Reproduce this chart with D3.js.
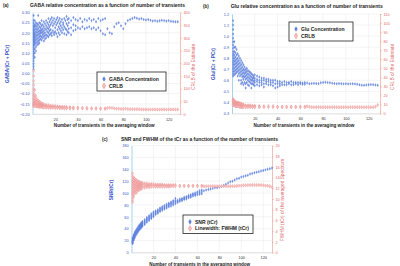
<!DOCTYPE html>
<html>
<head>
<meta charset="utf-8">
<script src="https://cdn.jsdelivr.net/npm/d3@7"></script>
<style>
body { margin: 0; background: #fff; }
svg { display: block; font-family: "Liberation Sans", Arial, sans-serif; }
</style>
</head>
<body>
<svg id="fig" width="400" height="266"></svg>
<script>
// each row: [number of transients, value, value, ...]
const gabaConc = [
  [1, 0.285, 0.262, 0.248, 0.236, 0.228, 0.219, 0.211, 0.204, 0.197, 0.19, 0.183, 0.176, 0.168, 0.161, 0.153, 0.144, 0.136, 0.127, 0.118, 0.108, 0.097, 0.086, 0.074, 0.061, 0.048, 0.034, 0.02],
  [2, 0.26, 0.24, 0.23, 0.215, 0.2, 0.19, 0.18, 0.17, 0.16, 0.15, 0.14, 0.12, 0.1, 0.08],
  [3, 0.25, 0.235, 0.22, 0.205, 0.19, 0.178, 0.165, 0.15, 0.13, 0.11],
  [4, 0.245, 0.23, 0.215, 0.2, 0.185, 0.17, 0.155, 0.14],
  [5, 0.285, 0.24, 0.22, 0.205, 0.19, 0.175, 0.16, 0.145],
  [6, 0.25, 0.23, 0.21, 0.195, 0.18, 0.165, 0.15],
  [7, 0.245, 0.225, 0.21, 0.2, 0.185, 0.17],
  [8, 0.26, 0.235, 0.215, 0.2, 0.18, 0.165],
  [9, 0.24, 0.22, 0.205, 0.19, 0.175],
  [10, 0.255, 0.23, 0.21, 0.195, 0.18, 0.16],
  [11, 0.245, 0.22, 0.2, 0.185, 0.17],
  [12, 0.26, 0.235, 0.215, 0.19, 0.175],
  [13, 0.25, 0.225, 0.205, 0.185],
  [14, 0.27, 0.24, 0.22, 0.2, 0.18],
  [15, 0.255, 0.23, 0.21, 0.19],
  [16, 0.265, 0.24, 0.215, 0.195],
  [17, 0.275, 0.25, 0.2, 0.185],
  [18, 0.26, 0.235, 0.21],
  [19, 0.27, 0.245, 0.2, 0.19],
  [20, 0.255, 0.225, 0.205],
  [21, 0.265, 0.24, 0.195],
  [22, 0.275, 0.25, 0.215, 0.18],
  [23, 0.26, 0.23, 0.2],
  [24, 0.27, 0.245, 0.22, 0.19],
  [25, 0.255, 0.235, 0.21],
  [26, 0.265, 0.225, 0.2],
  [27, 0.25, 0.24, 0.215],
  [28, 0.27, 0.23, 0.195],
  [29, 0.26, 0.22],
  [30, 0.28, 0.245, 0.215, 0.19],
  [31, 0.265, 0.235, 0.205],
  [32, 0.27, 0.25, 0.22, 0.2],
  [34, 0.26, 0.225, 0.19],
  [36, 0.275, 0.24, 0.21],
  [38, 0.265, 0.235, 0.215],
  [40, 0.26, 0.225],
  [42, 0.27, 0.22],
  [44, 0.255, 0.23],
  [46, 0.265, 0.22],
  [48, 0.26, 0.225],
  [50, 0.27, 0.23],
  [52, 0.26, 0.22],
  [54, 0.265, 0.225],
  [56, 0.255, 0.215],
  [58, 0.27, 0.225],
  [60, 0.26, 0.21],
  [62, 0.265, 0.195],
  [64, 0.27, 0.19]
];
const gabaCrlb = [
  [1, 170, 150, 130, 115, 100, 90, 80, 72, 65, 58, 52, 46, 41, 37, 33, 30],
  [2, 95, 75, 62, 52, 45, 40, 36, 32],
  [3, 70, 55, 46, 40, 35, 31],
  [4, 58, 48, 41, 36, 32, 29],
  [5, 52, 44, 38, 33, 29],
  [6, 48, 40, 35, 31, 28],
  [7, 45, 38, 33, 29],
  [8, 42, 36, 31, 28],
  [9, 40, 34, 30, 27],
  [10, 38, 33, 29, 26],
  [12, 36, 31, 28, 25],
  [14, 35, 30, 27, 25],
  [16, 33, 29, 26, 24],
  [18, 32, 28, 25],
  [20, 31, 27, 24],
  [22, 30, 27, 24],
  [24, 29, 26, 23],
  [26, 29, 25, 23],
  [28, 28, 25, 22],
  [30, 28, 24, 22],
  [33, 27, 24, 22],
  [36, 26, 23, 21],
  [40, 25, 22],
  [44, 24, 22],
  [48, 24, 21],
  [52, 23, 21],
  [56, 23, 21],
  [60, 22, 20],
  [64, 22, 20]
];
const tailN = d3.range(66, 129, 2);
const gabaConcTail = [0.22, 0.2, 0.195, 0.23, 0.245, 0.25, 0.235, 0.22, 0.245, 0.26, 0.265, 0.27, 0.275, 0.272, 0.268, 0.27,
  0.266, 0.263, 0.265, 0.262, 0.258, 0.26, 0.257, 0.259, 0.262, 0.26, 0.258, 0.26, 0.257, 0.256, 0.255, 0.254];
const gabaCrlbTail = [24, 25, 24, 22, 21, 21, 20, 20, 21, 20, 19, 19, 19, 19, 19, 18,
  18, 18, 18, 18, 18, 18, 18, 18, 18, 18, 18, 18, 18, 18, 18, 18];

const gluConc = [
  [1, 1.14, 1.1, 1.06, 1.02, 0.98, 0.95, 0.92, 0.89, 0.86, 0.84, 0.82, 0.8, 0.78, 0.76, 0.74, 0.72, 0.7, 0.68, 0.66, 0.64],
  [2, 0.95, 0.9, 0.86, 0.83, 0.8, 0.77, 0.74, 0.71, 0.68, 0.65],
  [3, 0.9, 0.85, 0.81, 0.78, 0.75, 0.72, 0.69, 0.66],
  [4, 0.88, 0.83, 0.79, 0.76, 0.73, 0.7, 0.67],
  [5, 0.84, 0.8, 0.77, 0.74, 0.71, 0.68, 0.64],
  [6, 0.82, 0.78, 0.75, 0.72, 0.69, 0.66, 0.6],
  [7, 0.8, 0.76, 0.73, 0.7, 0.67, 0.64],
  [8, 0.78, 0.74, 0.71, 0.68, 0.65, 0.6, 0.57],
  [9, 0.76, 0.72, 0.69, 0.66, 0.63, 0.58],
  [10, 0.74, 0.7, 0.67, 0.64, 0.61, 0.56],
  [11, 0.72, 0.69, 0.66, 0.63, 0.58],
  [12, 0.7, 0.67, 0.64, 0.61, 0.57, 0.53],
  [13, 0.71, 0.68, 0.65, 0.62, 0.58],
  [14, 0.69, 0.66, 0.63, 0.6, 0.56],
  [15, 0.68, 0.65, 0.62, 0.59, 0.55],
  [16, 0.67, 0.64, 0.61, 0.58],
  [17, 0.66, 0.63, 0.6, 0.57, 0.53],
  [18, 0.65, 0.62, 0.6, 0.57],
  [19, 0.64, 0.62, 0.59, 0.56],
  [20, 0.65, 0.62, 0.6, 0.58, 0.55],
  [22, 0.64, 0.61, 0.59, 0.56],
  [24, 0.63, 0.6, 0.58, 0.55],
  [26, 0.62, 0.6, 0.58, 0.56],
  [28, 0.62, 0.6, 0.57, 0.54],
  [30, 0.61, 0.59, 0.57],
  [32, 0.61, 0.59, 0.56],
  [34, 0.6, 0.58, 0.56],
  [36, 0.6, 0.58, 0.55],
  [38, 0.6, 0.57, 0.53],
  [40, 0.59, 0.57, 0.54],
  [42, 0.59, 0.57, 0.55],
  [44, 0.58, 0.56],
  [46, 0.59, 0.56],
  [48, 0.58, 0.56],
  [50, 0.58, 0.57],
  [52, 0.59, 0.56],
  [54, 0.58, 0.56],
  [56, 0.58, 0.57],
  [58, 0.58, 0.56],
  [60, 0.58, 0.57],
  [62, 0.575, 0.565],
  [64, 0.58, 0.565]
];
const gluCrlb = [
  [1, 16, 15, 14, 13, 12, 11, 10, 9],
  [2, 14, 13, 12, 11, 10, 9],
  [3, 13, 12, 11, 10, 9, 8],
  [4, 12, 11, 10, 9, 8],
  [5, 12, 11, 10, 9, 8],
  [6, 12, 11, 10, 9, 8],
  [7, 11, 10, 9, 8, 7],
  [8, 11, 10, 9, 8, 7],
  [9, 10, 9, 8, 7],
  [10, 10, 9, 8, 7],
  [12, 9, 8, 7],
  [14, 9, 8, 7],
  [16, 9, 8, 7],
  [18, 8.5, 7.5, 7],
  [20, 8.5, 7.5, 7],
  [24, 8, 7.5, 7],
  [28, 8, 7],
  [32, 8, 7],
  [36, 8, 7],
  [40, 7.5, 7],
  [44, 7.5, 7],
  [48, 7.5, 7],
  [52, 7.5, 7],
  [56, 7.5, 7],
  [60, 7.5, 7],
  [64, 7.5, 7]
];
const gluConcTail = [0.575, 0.57, 0.572, 0.574, 0.572, 0.57, 0.578, 0.58, 0.582, 0.58, 0.578, 0.574, 0.572, 0.57, 0.572, 0.57,
  0.568, 0.57, 0.566, 0.568, 0.57, 0.566, 0.564, 0.56, 0.556, 0.555, 0.558, 0.56, 0.562, 0.56, 0.558, 0.556];
const gluCrlbTail = [8, 7.5, 7, 7, 7, 7, 7, 7, 7, 7, 7, 7, 7, 7, 7, 7,
  7, 7, 7, 7, 7, 7, 7, 7, 7, 7, 7, 7, 7, 7, 7.5, 9.5];

const snrTcr = [
  [1, 25, 23, 21, 20, 19, 18, 17, 16, 15],
  [2, 30, 28, 26, 25, 24, 22, 21],
  [3, 34, 32, 30, 28, 27, 25],
  [4, 37, 35, 33, 31, 29],
  [5, 40, 38, 36, 34, 32],
  [6, 43, 41, 39, 37, 35],
  [7, 46, 44, 42, 40, 38],
  [8, 48, 46, 44, 42, 40],
  [9, 50, 48, 46, 44, 42],
  [10, 52, 50, 48, 46, 44],
  [12, 55, 53, 51, 49, 47],
  [14, 59, 57, 55, 53, 51],
  [16, 62, 60, 58, 56, 54],
  [18, 65, 63, 61, 59, 57],
  [20, 68, 66, 64, 62, 60],
  [22, 70, 68, 66, 64],
  [24, 72, 70, 68, 66],
  [26, 75, 73, 71, 69],
  [28, 77, 75, 73, 71],
  [30, 79, 77, 75, 73],
  [32, 81, 79, 77, 75],
  [34, 83, 81, 79, 77],
  [36, 85, 83, 81, 78],
  [38, 87, 85, 83, 80],
  [40, 91, 87, 85, 82],
  [42, 88, 86, 84],
  [44, 90, 88, 86],
  [46, 91, 89, 87],
  [48, 93, 91, 89],
  [50, 94, 92, 90],
  [52, 96, 94, 92],
  [54, 97, 95, 93],
  [56, 99, 97, 95],
  [58, 100, 98, 96],
  [60, 102, 100, 97],
  [62, 104, 101, 98],
  [64, 105, 102, 99]
];
const fwhmTcr = [
  [1, 14.8, 14.2, 13.6, 13.2, 12.8, 12.4, 12, 11.6, 11.2, 10.8, 10.3, 9.8, 9.4],
  [2, 14, 13.5, 13, 12.6, 12.2, 11.8, 11.4, 10.9, 10.4],
  [3, 13.8, 13.3, 12.9, 12.5, 12.1, 11.7, 11.2],
  [4, 13.6, 13.2, 12.8, 12.4, 12, 11.6, 11.1],
  [5, 13.4, 13, 12.7, 12.4, 12.1, 11.8, 11.4],
  [6, 13.3, 12.9, 12.6, 12.3, 12, 11.7],
  [7, 13.2, 12.9, 12.6, 12.3, 12, 11.7],
  [8, 13.1, 12.8, 12.5, 12.2, 11.9],
  [9, 13, 12.8, 12.5, 12.2, 11.9],
  [10, 13, 12.7, 12.4, 12.1],
  [12, 12.9, 12.7, 12.4, 12.1],
  [14, 12.9, 12.6, 12.4, 12.2],
  [16, 12.8, 12.6, 12.4, 12.2],
  [18, 12.8, 12.6, 12.3],
  [20, 12.8, 12.5, 12.3],
  [22, 12.7, 12.5, 12.3],
  [24, 12.7, 12.5, 12.3],
  [26, 12.7, 12.5, 12.3],
  [28, 12.7, 12.5, 12.3],
  [30, 12.6, 12.5, 12.3],
  [32, 12.6, 12.4, 12.3],
  [34, 12.6, 12.4, 12.3],
  [36, 12.6, 12.4],
  [38, 12.6, 12.4],
  [40, 12.6, 12.4],
  [44, 12.5, 12.4],
  [48, 12.5, 12.4],
  [52, 12.5, 12.4],
  [56, 12.5, 12.4],
  [60, 12.5, 12.4],
  [64, 12.5, 12.4]
];
const snrTail = [104, 105, 106, 107, 108, 109, 109, 110, 111, 113, 115, 117, 119, 120, 122, 124,
  125, 127, 128, 129, 130, 132, 133, 134, 135, 136, 137, 138, 139, 140, 141, 142];
const fwhmTail = [12.4, 12.4, 12.4, 12.4, 12.4, 12.4, 12.4, 12.4, 12.4, 12.4, 12.4, 12.4, 12.4, 12.4, 12.4, 12.45,
  12.5, 12.5, 12.55, 12.55, 12.6, 12.6, 12.6, 12.6, 12.6, 12.6, 12.6, 12.55, 12.5, 12.5, 12.4, 12.2];

// tick labels
const xTicks = [20, 40, 60, 80, 100, 120];
const gabaTicks = [-0.2, -0.15, -0.1, -0.05, 0, 0.05, 0.1, 0.15, 0.2, 0.25, 0.3];
const gabaCrlbTicks = [0, 50, 100, 150, 200, 250, 300, 350, 400];
const gluTicks = [0.3, 0.4, 0.5, 0.6, 0.7, 0.8, 0.9, 1.0, 1.1, 1.2];
const gluCrlbTicks = [0, 10, 20, 30, 40, 50, 60, 70, 80, 90, 100, 110];
const snrTicks = [0, 20, 40, 60, 80, 100, 120, 140, 160, 180];
const fwhmTicks = [0, 2, 4, 6, 8, 10, 12, 14, 16, 18, 20];

const BLUE = "#5d80de", RED = "#e67a7a", BLUE_TXT = "#3551c4", RED_TXT = "#e06a6a";

function expand(rows, tailVals) {
  const out = [];
  rows.forEach(r => r.slice(1).forEach(v => out.push({ n: r[0], v: v })));
  if (tailVals) tailVals.forEach((v, i) => out.push({ n: tailN[i], v: v }));
  return out;
}

const svg = d3.select("#fig");
const diamond = d3.symbol().type(d3.symbolDiamond).size(3.5)();

function drawPanel(p) {
  const x = d3.scaleLinear().domain([0, p.xMax]).range([p.left, p.right]);
  const yL = d3.scaleLinear().domain(d3.extent(p.lTicks)).range([p.bottom, p.top]);
  const yR = d3.scaleLinear().domain(d3.extent(p.rTicks)).range([p.bottom, p.top]);
  const g = svg.append("g");

  // grid
  g.append("g").selectAll("line").data(xTicks).join("line")
    .attr("x1", d => x(d)).attr("x2", d => x(d))
    .attr("y1", p.top).attr("y2", p.bottom)
    .attr("stroke", "#e8e8e8").attr("stroke-width", 0.5);
  g.append("g").selectAll("line").data(p.lTicks).join("line")
    .attr("x1", p.left).attr("x2", p.right)
    .attr("y1", d => yL(d)).attr("y2", d => yL(d))
    .attr("stroke", "#e8e8e8").attr("stroke-width", 0.5);

  // axes
  const ax = g.append("g").attr("transform", "translate(0," + p.bottom + ")")
    .call(d3.axisBottom(x).tickValues(xTicks).tickSize(0).tickPadding(4));
  ax.attr("font-size", 3.8).attr("font-family", null);
  ax.select(".domain").attr("stroke", "#c8c8c8").attr("stroke-width", 0.5);
  ax.selectAll("text").attr("fill", "#333");

  const al = g.append("g").attr("transform", "translate(" + p.left + ",0)")
    .call(d3.axisLeft(yL).tickValues(p.lTicks).tickFormat(d3.format(p.lFmt)).tickSize(0).tickPadding(3));
  al.attr("font-size", 3.8).attr("font-family", null);
  al.select(".domain").attr("stroke", "#a9d3ea").attr("stroke-width", 1);
  al.selectAll("text").attr("fill", BLUE_TXT);

  const ar = g.append("g").attr("transform", "translate(" + p.right + ",0)")
    .call(d3.axisRight(yR).tickValues(p.rTicks).tickSize(1.5).tickSizeOuter(0).tickPadding(2));
  ar.attr("font-size", 3.8).attr("font-family", null);
  ar.select(".domain").attr("stroke", "#efb0a8").attr("stroke-width", 0.8);
  ar.selectAll("line").attr("stroke", "#efb0a8");
  ar.selectAll("text").attr("fill", RED_TXT);

  // points
  g.append("g").selectAll("path").data(p.blue).join("path")
    .attr("transform", d => "translate(" + x(d.n) + "," + yL(d.v) + ")")
    .attr("d", diamond).attr("fill", BLUE).attr("fill-opacity", 0.85);
  g.append("g").selectAll("path").data(p.red).join("path")
    .attr("transform", d => "translate(" + x(d.n) + "," + yR(d.v) + ")")
    .attr("d", diamond).attr("fill", "#f7c4c4").attr("stroke", RED).attr("stroke-width", 0.3);

  // titles
  g.append("text").attr("x", p.tag[0]).attr("y", p.tag[1])
    .attr("font-size", 4.5).attr("font-weight", "bold").attr("fill", "#222").text(p.tagText);
  g.append("text").attr("x", p.title[0]).attr("y", p.title[1]).attr("text-anchor", "middle")
    .attr("font-size", 4.8).attr("font-weight", "bold").attr("fill", "#222")
    .attr("textLength", p.title[2]).attr("lengthAdjust", "spacingAndGlyphs").text(p.titleText);
  g.append("text").attr("x", (p.left + p.right) / 2 - 2).attr("y", p.bottom + 13.2).attr("text-anchor", "middle")
    .attr("font-size", 4.6).attr("font-weight", "bold").attr("fill", "#222")
    .text("Number of transients in the averaging window");
  g.append("text").attr("transform", "translate(" + p.lLab[0] + "," + p.lLab[1] + ") rotate(-90)")
    .attr("text-anchor", "middle").attr("font-size", 4.8).attr("font-weight", "bold").attr("fill", BLUE_TXT)
    .text(p.lText);
  g.append("text").attr("transform", "translate(" + p.rLab[0] + "," + p.rLab[1] + ") rotate(-90)")
    .attr("text-anchor", "middle").attr("font-size", 4.8).attr("fill", RED_TXT)
    .text(p.rText);

  // legend
  const L = p.legend;
  g.append("rect").attr("x", L.x).attr("y", L.y).attr("width", L.w).attr("height", L.h)
    .attr("fill", "#fff").attr("stroke", "#222").attr("stroke-width", 0.8);
  const items = [[p.legendText[0], BLUE, null], [p.legendText[1], "#f7c4c4", RED]];
  items.forEach((it, i) => {
    const cy = L.y + L.h * (i === 0 ? 0.37 : 0.73);
    g.append("path").attr("transform", "translate(" + (L.x + 7) + "," + cy + ")")
      .attr("d", d3.symbol().type(d3.symbolDiamond).size(9)())
      .attr("fill", it[1]).attr("stroke", it[2]).attr("stroke-width", 0.5);
    g.append("text").attr("x", L.x + 12).attr("y", cy + 1.8)
      .attr("font-size", 5).attr("font-weight", "bold").attr("fill", "#222").text(it[0]);
  });
}

const panels = [
  {
    left: 32.5, right: 180, top: 12.5, bottom: 114, xMax: 130,
    lTicks: gabaTicks, lFmt: ".2f", rTicks: gabaCrlbTicks,
    blue: expand(gabaConc, gabaConcTail), red: expand(gabaCrlb, gabaCrlbTail),
    tag: [3, 7.3], tagText: "(a)",
    title: [107.5, 7.3, 155], titleText: "GABA relative concentration as a function of number of transients",
    lLab: [8.5, 64], lText: "GABA/(Cr + PCr)",
    rLab: [195, 67], rText: "CRLB of the Estimate",
    legend: { x: 97, y: 72, w: 69, h: 19 }, legendText: ["GABA Concentration", "CRLB"]
  },
  {
    left: 232, right: 380, top: 14, bottom: 113.5, xMax: 130,
    lTicks: gluTicks, lFmt: ".1f", rTicks: gluCrlbTicks,
    blue: expand(gluConc, gluConcTail), red: expand(gluCrlb, gluCrlbTail),
    tag: [203, 7.6], tagText: "(b)",
    title: [306.7, 7.6, 152], titleText: "Glu relative concentration as a function of number of transients",
    lLab: [215, 64], lText: "Glu/(Cr + PCr)",
    rLab: [394, 67], rText: "CRLB of the Estimate",
    legend: { x: 289, y: 22, w: 64, h: 19 }, legendText: ["Glu Concentration", "CRLB"]
  },
  {
    left: 131.5, right: 272, top: 145.5, bottom: 252.5, xMax: 128,
    lTicks: snrTicks, lFmt: "d", rTicks: fwhmTicks,
    blue: expand(snrTcr, snrTail), red: expand(fwhmTcr, fwhmTail),
    tag: [102, 141.3], tagText: "(c)",
    title: [199.5, 141.3, 157], titleText: "SNR and FWHM of the tCr as a function of the number of transients",
    lLab: [113, 190], lText: "SNR(tCr)",
    rLab: [284, 200], rText: "FWHM (tCr) of the averaged Spectrum",
    legend: { x: 183, y: 215, w: 70, h: 18.5 }, legendText: ["SNR (tCr)", "Linewidth: FWHM (tCr)"]
  }
];

panels.forEach(drawPanel);
</script>
</body>
</html>
